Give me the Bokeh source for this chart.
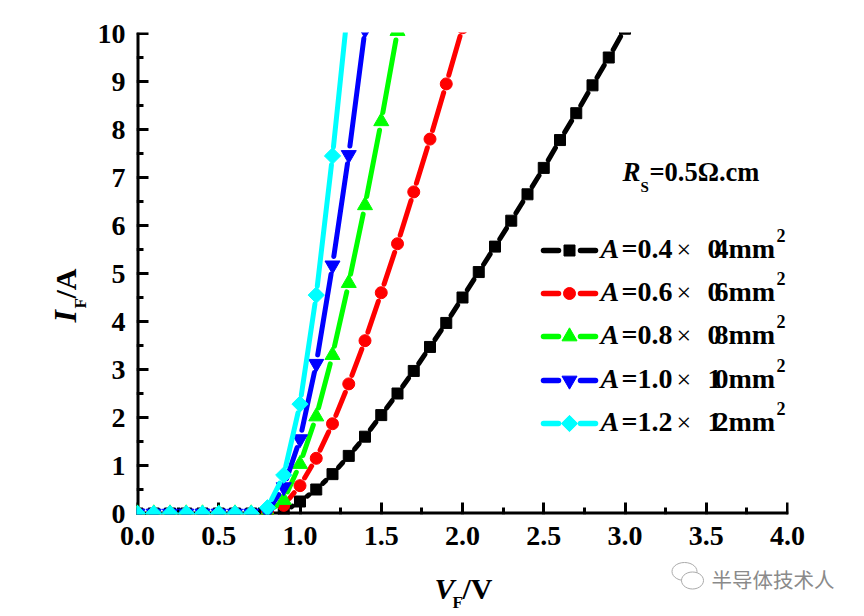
import math
from bokeh.plotting import figure
from bokeh.core.properties import value
from bokeh.models import FixedTicker, LinearAxis
from bokeh.embed import file_html
from bokeh.resources import INLINE

x_flat = [0.0, 0.1, 0.2, 0.3, 0.4, 0.5, 0.6, 0.7]
y_flat = [0.0, 0.0, 0.0, 0.0, 0.0, 0.0, 0.0, 0.0]

x_black = x_flat + [0.8, 0.9, 1.0, 1.1, 1.2, 1.3, 1.4, 1.5, 1.6, 1.7, 1.8, 1.9, 2.0, 2.1, 2.2, 2.3, 2.4, 2.5, 2.6, 2.7, 2.8, 2.9, 3.0]
y_black = y_flat + [0.0, 0.04, 0.25, 0.5, 0.82, 1.2, 1.6, 2.05, 2.5, 2.97, 3.47, 3.97, 4.5, 5.03, 5.56, 6.1, 6.65, 7.2, 7.78, 8.34, 8.92, 9.5, 10.1]
x_red = x_flat + [0.8, 0.9, 1.0, 1.1, 1.2, 1.3, 1.4, 1.5, 1.6, 1.7, 1.8, 1.9, 2.0]
y_red = y_flat + [0.01, 0.17, 0.58, 1.15, 1.87, 2.7, 3.6, 4.6, 5.62, 6.7, 7.8, 8.95, 10.12]
x_green = x_flat + [0.8, 0.9, 1.0, 1.1, 1.2, 1.3, 1.4, 1.5, 1.6]
y_green = y_flat + [0.02, 0.28, 1.03, 2.02, 3.3, 4.8, 6.42, 8.17, 10.05]
x_blue = x_flat + [0.8, 0.9, 1.0, 1.1, 1.2, 1.3, 1.4]
y_blue = y_flat + [0.04, 0.55, 1.55, 3.12, 5.17, 7.47, 10.08]
x_cyan = x_flat + [0.8, 0.9, 1.0, 1.1, 1.2, 1.3]
y_cyan = y_flat + [0.12, 0.8, 2.28, 4.55, 7.45, 10.7]

x_ticks = [0.0, 0.5, 1.0, 1.5, 2.0, 2.5, 3.0, 3.5, 4.0]
x_minor = [0.25, 0.75, 1.25, 1.75, 2.25, 2.75, 3.25, 3.75]
y_ticks = [0, 1, 2, 3, 4, 5, 6, 7, 8, 9, 10]
y_minor = [0.5, 1.5, 2.5, 3.5, 4.5, 5.5, 6.5, 7.5, 8.5, 9.5]

colors = ["#000000", "#ff0000", "#00ff00", "#0000ff", "#00ffff"]
legend_sizes = ["0.4", "0.6", "0.8", "1.0", "1.2"]
legend_second = [("0", "4"), ("0", "6"), ("0", "8"), ("1", "0"), ("1", "2")]

PX_X0, PX_PER_X = 137.0, 162.5
PX_Y0, PX_PER_Y = 513.0, 48.0
def dx(px): return (px - PX_X0) / PX_PER_X
def dy(py): return (PX_Y0 - py) / PX_PER_Y

p = figure(width=856, height=614, output_backend="svg", toolbar_location=None,
           x_range=(dx(136), dx(788)), y_range=(dy(514), dy(32)),
           min_border_left=136, min_border_right=68, min_border_top=32, min_border_bottom=100)
p.outline_line_color = None
p.grid.visible = False
p.background_fill_color = "white"

SERIF = "Liberation Serif"
# inner axes: spine and ticks, beneath the data
for ax, tk, mn in ((p.xaxis[0], x_ticks, x_minor), (p.yaxis[0], y_ticks, y_minor)):
    ax.ticker = FixedTicker(ticks=tk, minor_ticks=mn)
    ax.axis_line_width = 6
    ax.major_tick_line_width = 3
    ax.minor_tick_line_width = 3
    ax.major_tick_in = 12
    ax.major_tick_out = 0
    ax.minor_tick_in = 7
    ax.minor_tick_out = 0
    ax.major_label_text_font_size = "1px"
    ax.major_label_overrides = {t: "" for t in tk}
    ax.major_label_standoff = 0
    ax.level = "underlay"

# outer axes: tick labels only
x_lab = LinearAxis(ticker=FixedTicker(ticks=x_ticks), major_label_overrides={t: f"{t:.1f}" for t in x_ticks},
                   major_label_standoff=12)
y_lab = LinearAxis(ticker=FixedTicker(ticks=y_ticks), major_label_overrides={t: str(t) for t in y_ticks},
                   major_label_standoff=11)
for ax in (x_lab, y_lab):
    ax.axis_line_color = None
    ax.major_tick_line_color = None
    ax.minor_tick_line_color = None
    ax.major_tick_in = 0
    ax.major_tick_out = 0
    ax.minor_tick_out = 0
    ax.major_label_text_font = SERIF
    ax.major_label_text_font_style = "bold"
    ax.major_label_text_font_size = "28px"
    ax.major_label_text_color = "black"
p.add_layout(x_lab, "below")
p.add_layout(y_lab, "left")

GAP = 9
def segments(xs, ys):
    out_x, out_y = [], []
    for i in range(len(xs) - 1):
        ax_, ay_ = xs[i] * PX_PER_X, ys[i] * PX_PER_Y
        bx_, by_ = xs[i + 1] * PX_PER_X, ys[i + 1] * PX_PER_Y
        d = math.hypot(bx_ - ax_, by_ - ay_)
        if d <= 2 * GAP:
            continue
        t = GAP / d
        out_x.append([xs[i] + (xs[i + 1] - xs[i]) * t, xs[i + 1] - (xs[i + 1] - xs[i]) * t])
        out_y.append([ys[i] + (ys[i + 1] - ys[i]) * t, ys[i + 1] - (ys[i + 1] - ys[i]) * t])
    return out_x, out_y

markers = [("square", 11, 0), ("circle", 12, 0), ("triangle", 15, 0), ("inverted_triangle", 15, 0), ("square", 11.5, math.pi / 4)]
series = [(x_black, y_black), (x_red, y_red), (x_green, y_green), (x_blue, y_blue), (x_cyan, y_cyan)]

for (xs, ys), c, (m, s, a) in zip(series, colors, markers):
    sx, sy = segments(xs, ys)
    p.multi_line(sx, sy, line_color=c, line_width=5, line_cap="round")
    p.scatter(xs, ys, marker=m, size=s, angle=a, fill_color=c, line_color=c, line_width=1)

BASE = 0.34
def text(px, py, s, size=27, style="bold", font=SERIF, color="black", angle=0.0):
    if angle:
        px -= BASE * size
    else:
        py -= BASE * size
    p.text([dx(px)], [dy(py)], text=[s], text_font=value(font), text_font_style=style,
           text_font_size=f"{size}px", text_color=color, text_align="left",
           text_baseline="alphabetic", angle=angle, level="annotation")

# legend
rows_y = [250, 293, 336, 380, 423]
for yy, c, (m, s, a), lab, (d1, d2) in zip(rows_y, colors, markers, legend_sizes, legend_second):
    p.line([dx(543), dx(558)], [dy(yy), dy(yy)], line_color=c, line_width=5.5, line_cap="round")
    p.line([dx(580), dx(595)], [dy(yy), dy(yy)], line_color=c, line_width=5.5, line_cap="round")
    p.scatter([dx(569)], [dy(yy)], marker=m, size=s, angle=a, fill_color=c, line_color=c, line_width=1)
    text(600, yy + 8, "A", 28, "bold italic")
    text(621, yy + 8, "=" + lab, 28)
    text(676, yy + 8, "×", 26, "normal")
    text(707, yy + 8, d1, 28)
    text(714, yy + 8, d2 + "mm", 28)
    text(776, yy - 9, "2", 18)

# annotation
text(622, 181, "R", 27, "bold italic")
text(640, 192, "S", 15)
text(649, 181, "=0.5Ω.cm", 26.5)

# axis labels
text(434, 598, "V", 30, "bold italic")
text(452, 608, "F", 17)
text(462, 598, "/V", 30)

text(75, 322, "I", 32, "bold italic", angle=math.pi / 2)
text(86, 308, "F", 17, angle=math.pi / 2)
text(75, 298, "/A", 30, angle=math.pi / 2)

# watermark
text(711, 585, "半导体技术人", 20.5, "normal", "Noto Sans CJK SC", "#8a8a8a")
def bubble(cx, cy, rx, ry):
    n = 28
    xs = [dx(cx + rx * math.cos(2 * math.pi * i / n)) for i in range(n)]
    ys = [dy(cy + ry * math.sin(2 * math.pi * i / n)) for i in range(n)]
    p.patch(xs, ys, fill_color="white", line_color="#aaaaaa", line_width=1, level="annotation")
bubble(684, 571, 12.5, 9)
bubble(692, 580, 11, 8.5)
p.scatter([dx(678), dx(686), dx(688), dx(696)], [dy(568), dy(568), dy(578), dy(578)], marker="circle", size=2.5,
          fill_color="#aaaaaa", line_color=None, level="annotation")

open("out.html", "w").write(file_html(p, INLINE))
